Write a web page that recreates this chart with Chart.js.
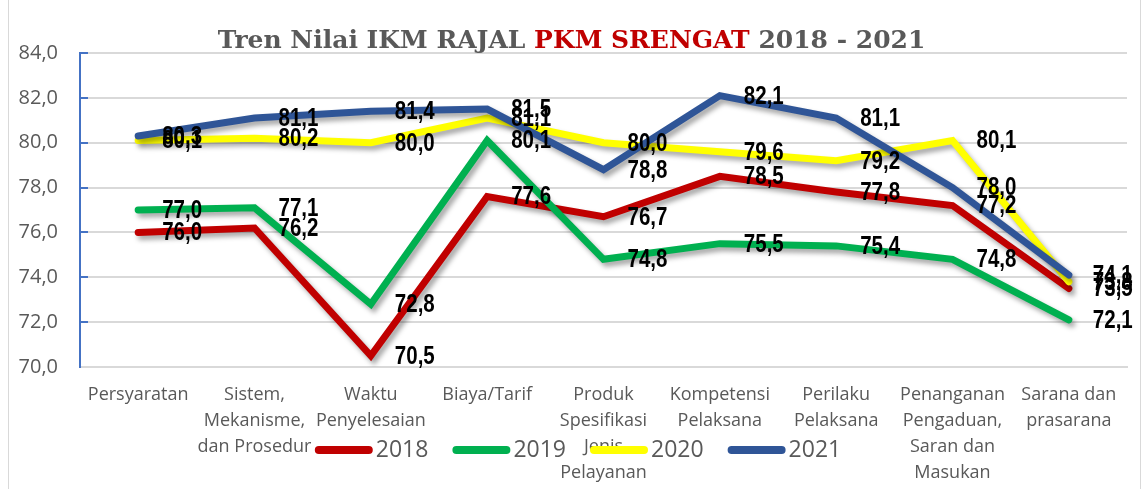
<!DOCTYPE html>
<html>
<head>
<meta charset="utf-8">
<script src="https://cdn.jsdelivr.net/npm/chart.js@4.4.1/dist/chart.umd.min.js"></script>
<style>
  html, body { margin: 0; padding: 0; background: #fff; }
  canvas { display: block; }
</style>
</head>
<body>
<canvas id="grafikIkm" width="1143" height="489"></canvas>
<script>
const kategori = [
  "Persyaratan",
  ["Sistem,", "Mekanisme,", "dan Prosedur"],
  ["Waktu", "Penyelesaian"],
  "Biaya/Tarif",
  ["Produk", "Spesifikasi", "Jenis", "Pelayanan"],
  ["Kompetensi", "Pelaksana"],
  ["Perilaku", "Pelaksana"],
  ["Penanganan", "Pengaduan,", "Saran dan", "Masukan"],
  ["Sarana dan", "prasarana"]
];
const tahun = ["2018", "2019", "2020", "2021"];
const nilai2018 = [76.0, 76.2, 70.5, 77.6, 76.7, 78.5, 77.8, 77.2, 73.5];
const nilai2019 = [77.0, 77.1, 72.8, 80.1, 74.8, 75.5, 75.4, 74.8, 72.1];
const nilai2020 = [80.1, 80.2, 80.0, 81.1, 80.0, 79.6, 79.2, 80.1, 73.8];
const nilai2021 = [80.3, 81.1, 81.4, 81.5, 78.8, 82.1, 81.1, 78.0, 74.1];
const warna = ["#C00000", "#00B050", "#FFFF00", "#2F5597"];
const yMin = 70;
const yMax = 84;
const yStep = 2;
const judul = [
  ["Tren Nilai IKM RAJAL ", "#595959"],
  ["PKM SRENGAT", "#C00000"],
  [" 2018 - 2021", "#595959"]
];

const koma = v => v.toFixed(1).replace(".", ",");
const abu = "#595959";

// background + frame lines
const bingkai = {
  id: "bingkai",
  beforeDraw(chart) {
    const ctx = chart.ctx;
    ctx.save();
    ctx.fillStyle = "#fff";
    ctx.fillRect(0, 0, chart.width, chart.height);
    ctx.strokeStyle = "#d9d9d9";
    ctx.lineWidth = 1;
    ctx.beginPath();
    ctx.moveTo(8.5, 0);
    ctx.lineTo(8.5, chart.height);
    ctx.moveTo(1140.5, 0);
    ctx.lineTo(1140.5, chart.height);
    ctx.stroke();
    ctx.restore();
  }
};

// shadow under the lines, then value labels on top
const bayangan = {
  id: "bayangan",
  beforeDatasetsDraw(chart) {
    const ctx = chart.ctx;
    ctx.save();
    ctx.shadowColor = "rgba(0,0,0,0.35)";
    ctx.shadowBlur = 5;
    ctx.shadowOffsetX = 3;
    ctx.shadowOffsetY = 4;
  },
  afterDatasetsDraw(chart) {
    const ctx = chart.ctx;
    ctx.restore();
    ctx.font = "bold 25px 'Liberation Sans', Arial, sans-serif";
    ctx.fillStyle = "#000";
    ctx.textAlign = "left";
    ctx.textBaseline = "middle";
    chart.data.datasets.forEach((ds, i) => {
      chart.getDatasetMeta(i).data.forEach((pt, j) => {
        // narrow look, like Arial Narrow
        ctx.save();
        ctx.translate(pt.x + 24, pt.y + 1);
        ctx.scale(0.82, 1);
        ctx.fillText(koma(ds.data[j]), 0, 0);
        ctx.restore();
      });
    });
  }
};

// two-colour title
const judulPlugin = {
  id: "judulPlugin",
  afterDraw(chart) {
    const ctx = chart.ctx;
    ctx.save();
    ctx.font = "bold 25px 'DejaVu Serif', serif";
    ctx.textBaseline = "middle";
    ctx.textAlign = "left";
    const total = judul.reduce((s, b) => s + ctx.measureText(b[0]).width, 0);
    let x = chart.width / 2 - total / 2;
    judul.forEach(b => {
      ctx.fillStyle = b[1];
      ctx.fillText(b[0], x, 41);
      x += ctx.measureText(b[0]).width;
    });
    ctx.restore();
  }
};

// legend drawn over the category labels, like the original
const legenda = {
  id: "legenda",
  afterDraw(chart) {
    const ctx = chart.ctx;
    ctx.save();
    ctx.font = "23px 'Open Sans', sans-serif";
    ctx.textBaseline = "middle";
    const garis = 58, jarak = 3, antar = 24;
    const lebar = chart.data.datasets.map(ds => garis + jarak + ctx.measureText(ds.label).width);
    const total = lebar.reduce((a, b) => a + b, 0) + antar * (lebar.length - 1);
    let x = 578 - total / 2;
    const y = 450;
    chart.data.datasets.forEach((ds, i) => {
      ctx.strokeStyle = ds.borderColor;
      ctx.lineWidth = 8;
      ctx.lineCap = "round";
      ctx.beginPath();
      ctx.moveTo(x + 4, y);
      ctx.lineTo(x + garis - 4, y);
      ctx.stroke();
      ctx.fillStyle = abu;
      ctx.fillText(ds.label, x + garis + jarak, y);
      x += lebar[i] + antar;
    });
    ctx.restore();
  }
};

const semuaNilai = [nilai2018, nilai2019, nilai2020, nilai2021];

new Chart(document.getElementById("grafikIkm"), {
  type: "line",
  data: {
    labels: kategori,
    datasets: semuaNilai.map((d, i) => ({
      label: tahun[i],
      data: d,
      borderColor: warna[i],
      backgroundColor: warna[i],
      borderWidth: 7,
      borderCapStyle: "round",
      borderJoinStyle: "miter",
      pointRadius: 0,
      tension: 0,
      fill: false,
      order: semuaNilai.length - i
    }))
  },
  options: {
    responsive: false,
    devicePixelRatio: 1,
    animation: false,
    layout: { padding: { top: 53, right: 16, left: 0, bottom: 0 } },
    plugins: {
      legend: { display: false },
      title: { display: false },
      tooltip: { enabled: false }
    },
    scales: {
      x: {
        offset: true,
        grid: { display: false, drawTicks: false },
        border: { color: "#d9d9d9", width: 2 },
        ticks: {
          color: abu,
          font: { family: "'Open Sans', sans-serif", size: 18, lineHeight: 1.45 },
          padding: 15,
          maxRotation: 0,
          autoSkip: false
        },
        afterFit(scale) { scale.height = 122; }
      },
      y: {
        min: yMin,
        max: yMax,
        grid: { color: "#d9d9d9", lineWidth: 2, tickColor: "#4472C4", tickLength: -8, drawTicks: true },
        border: { color: "#4472C4", width: 2 },
        ticks: {
          stepSize: yStep,
          color: abu,
          font: { family: "'Open Sans', sans-serif", size: 20 },
          padding: 30,
          callback: v => koma(v)
        },
        afterFit(scale) { scale.width = 80; }
      }
    }
  },
  plugins: [bingkai, bayangan, judulPlugin, legenda]
});
</script>
</body>
</html>
